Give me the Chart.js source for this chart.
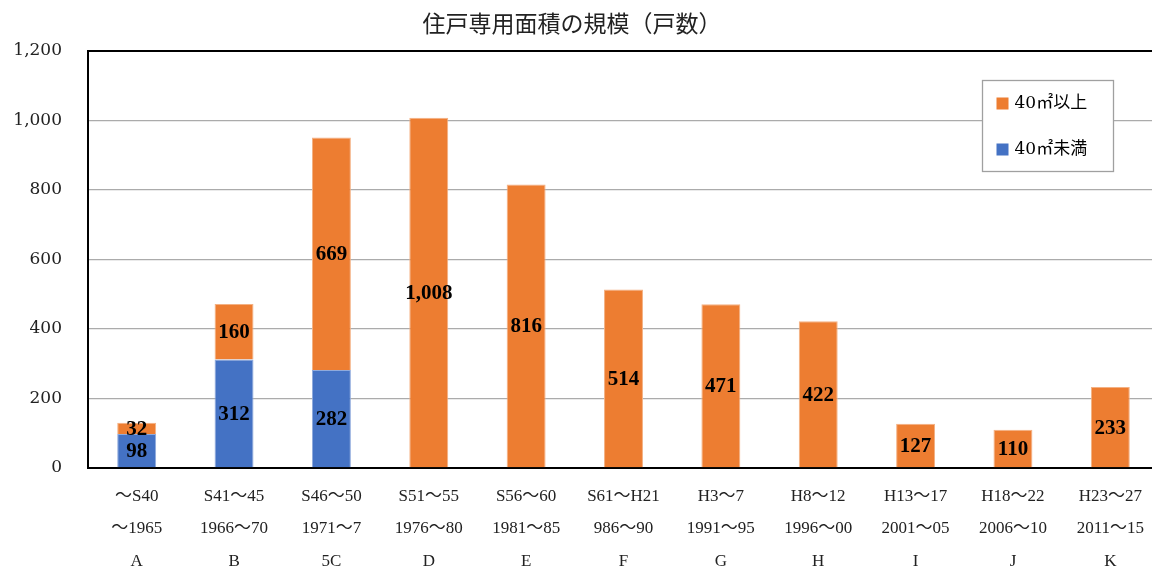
<!DOCTYPE html>
<html>
<head>
<meta charset="utf-8">
<script src="https://cdn.jsdelivr.net/npm/chart.js@4/dist/chart.umd.min.js"></script>
<style>
html,body{margin:0;padding:0;background:#fff;overflow:hidden;}
#wrap{width:1152px;height:568px;position:relative;overflow:hidden;}
</style>
</head>
<body>
<div id="wrap"><canvas id="c" width="1159" height="568"></canvas></div>
<script>
// ---- data ----
const eraLabels = ["～S40","S41～45","S46～50","S51～55","S56～60","S61～H21","H3～7","H8～12","H13～17","H18～22","H23～27"];
const yearLabels = ["～1965","1966～70","1971～7","1976～80","1981～85","986～90","1991～95","1996～00","2001～05","2006～10","2011～15"];
const letterLabels = ["A","B","5C","D","E","F","G","H","I","J","K"];
const under40 = [98,312,282,0,0,0,0,0,0,0,0];
const over40 = [32,160,669,1008,816,514,471,422,127,110,233];
const seriesNames = ["40㎡未満","40㎡以上"];
const chartTitle = "住戸専用面積の規模（戸数）";

const labels = eraLabels.map((e,i)=>[e, yearLabels[i], letterLabels[i]]);

const fmt = v => v.toLocaleString('en-US');

const titlePlugin = {
  id:'centerTitle',
  afterDraw(chart){
    const ctx = chart.ctx;
    ctx.save();
    ctx.font = '23px "Noto Sans CJK JP", sans-serif';
    ctx.fillStyle = '#222';
    ctx.textAlign = 'center';
    ctx.textBaseline = 'middle';
    ctx.fillText(chartTitle, 572, 23);
    ctx.restore();
  }
};

const dataLabelPlugin = {
  id:'dataLabels',
  afterDatasetsDraw(chart){
    const ctx = chart.ctx;
    ctx.save();
    ctx.font = 'bold 21px "Liberation Serif", "DejaVu Serif", serif';
    ctx.fillStyle = '#000';
    ctx.textAlign = 'center';
    ctx.textBaseline = 'middle';
    chart.data.datasets.forEach((ds,di)=>{
      const meta = chart.getDatasetMeta(di);
      meta.data.forEach((el,i)=>{
        const v = ds.data[i];
        if(!v) return;
        ctx.fillText(fmt(v), el.x, (el.y + el.base)/2 + 1);
      });
    });
    ctx.restore();
  }
};

const boxLegendPlugin = {
  id:'boxLegend',
  afterDatasetsDraw(chart){
    const ctx = chart.ctx;
    const a = chart.chartArea;
    const x0 = a.left + 894.5, y0 = a.top + 29.5, w = 131, h = 91;
    ctx.save();
    ctx.fillStyle = '#fff';
    ctx.fillRect(x0, y0, w, h);
    ctx.strokeStyle = '#a0a0a0';
    ctx.lineWidth = 1.3;
    ctx.strokeRect(x0, y0, w, h);
    const items = chart.data.datasets.map(d=>({text:d.label,color:d.backgroundColor})).reverse();
    ctx.font = '17px "DejaVu Serif", "Noto Sans CJK JP", serif';
    ctx.textBaseline = 'middle';
    ctx.textAlign = 'left';
    items.forEach((it,i)=>{
      const cy = y0 + 23 + i*46;
      ctx.fillStyle = it.color;
      ctx.fillRect(x0 + 14, cy - 6, 12, 12);
      ctx.fillStyle = '#000';
      ctx.fillText(it.text, x0 + 32, cy);
    });
    ctx.restore();
  }
};

new Chart(document.getElementById('c'), {
  type:'bar',
  data:{
    labels: labels,
    datasets:[
      {label: seriesNames[0], data: under40, backgroundColor:'#4472C4', borderColor:'#8FAADC', borderWidth:1, barPercentage:0.4, categoryPercentage:1},
      {label: seriesNames[1], data: over40, backgroundColor:'#ED7D31', borderColor:'#F4B183', borderWidth:1, barPercentage:0.4, categoryPercentage:1}
    ]
  },
  options:{
    responsive:false,
    animation:false,
    layout:{padding:{left:0,right:0,top:51,bottom:0}},
    plugins:{
      legend:{display:false},
      tooltip:{enabled:false},
      title:{display:false}
    },
    scales:{
      x:{
        stacked:true,
        grid:{display:false, drawTicks:false},
        border:{display:true, color:'#000', width:2},
        ticks:{
          color:'#222',
          padding:12,
          autoSkip:false,
          maxRotation:0,
          font:{family:'"Liberation Serif", "Noto Sans CJK JP", serif', size:17, lineHeight:1.91}
        },
        afterFit(s){ s.height = 100; }
      },
      y:{
        stacked:true,
        min:0, max:1200,
        grid:{
          color: c => (c.tick && c.tick.value === 1200) ? '#000' : '#ababab',
          lineWidth: c => (c.tick && c.tick.value === 1200) ? 2 : 1.3,
          drawTicks:false
        },
        border:{display:true, color:'#000', width:2},
        ticks:{
          stepSize:200,
          color:'#222',
          padding:26,
          font:{family:'"DejaVu Serif", serif', size:17},
          callback: v => fmt(v)
        },
        afterFit(s){ s.width = 88; }
      }
    }
  },
  plugins:[dataLabelPlugin, boxLegendPlugin, titlePlugin]
});
</script>
</body>
</html>
